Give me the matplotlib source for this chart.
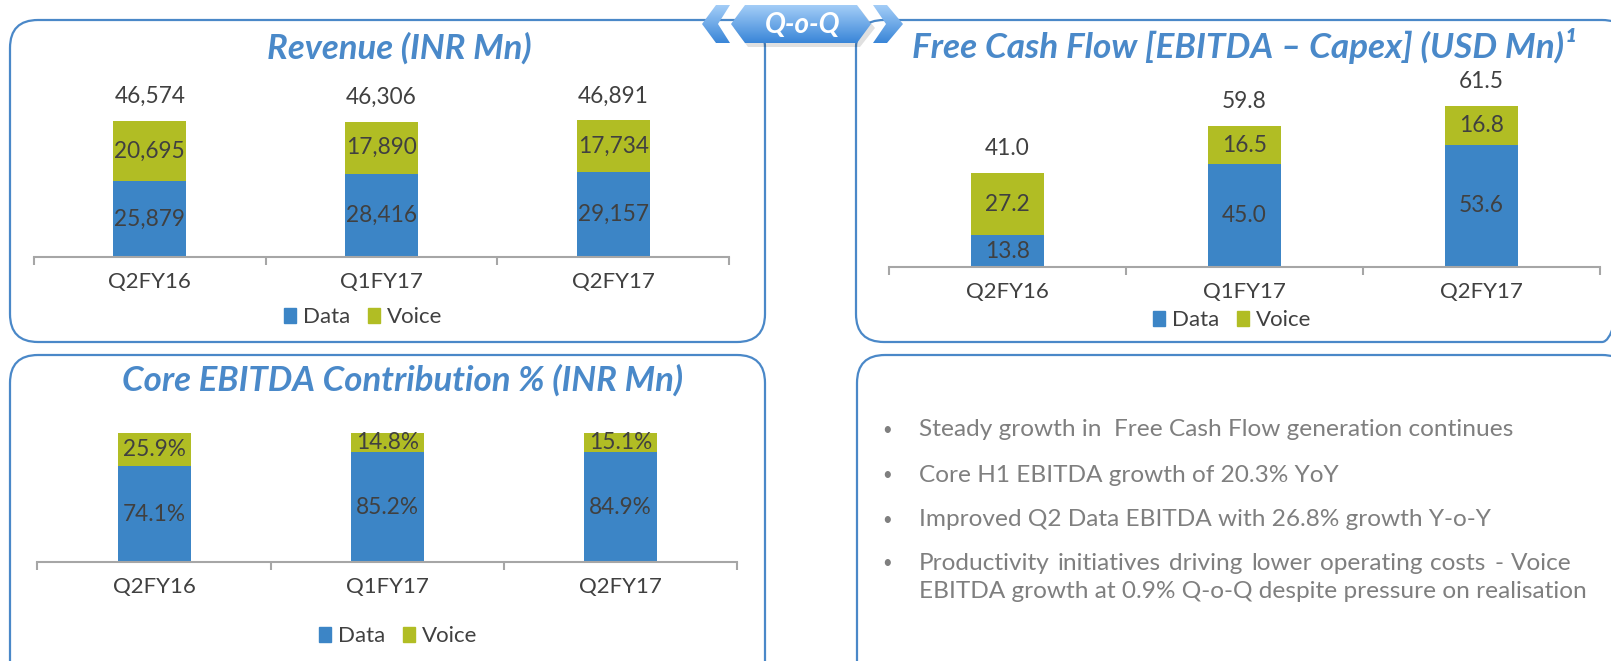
import numpy as np
import matplotlib
matplotlib.use("Agg")
import matplotlib.pyplot as plt
from matplotlib.patches import FancyBboxPatch, Polygon, Patch
from matplotlib.colors import LinearSegmentedColormap

# ---------------- data ----------------
categories = ["Q2FY16", "Q1FY17", "Q2FY17"]

rev_data = [25879, 28416, 29157]
rev_voice = [20695, 17890, 17734]
rev_total_labels = ["46,574", "46,306", "46,891"]
rev_data_labels = ["25,879", "28,416", "29,157"]
rev_voice_labels = ["20,695", "17,890", "17,734"]

fcf_data = [13.8, 45.0, 53.6]
fcf_voice = [27.2, 16.5, 16.8]
fcf_total_labels = ["41.0", "59.8", "61.5"]

ebitda_data = [74.1, 85.2, 84.9]
ebitda_voice = [25.9, 14.8, 15.1]

series_names = ["Data", "Voice"]

bullets = [
    "Steady growth in  Free Cash Flow generation continues",
    "Core H1 EBITDA growth of 20.3% YoY",
    "Improved Q2 Data EBITDA with 26.8% growth Y-o-Y",
    "Productivity initiatives driving lower operating costs - Voice",
    "EBITDA growth at 0.9% Q-o-Q despite pressure on realisation",
]

titles = ["Revenue (INR Mn)",
          "Free Cash Flow [EBITDA \u2013 Capex] (USD Mn)\u00b9",
          "Core EBITDA Contribution % (INR Mn)"]

# ---------------- style ----------------
FONT = ["Lato", "DejaVu Sans"]
plt.rcParams["font.family"] = FONT
C_DATA = "#3C85C6"
C_VOICE = "#B1BD24"
C_TEXT = "#404040"
C_TITLE = "#4A89C9"
C_BORDER = "#4A88C8"
C_AXIS = "#A6A6A6"
C_BULLET = "#7F7F7F"

W, H = 1611, 661
fig = plt.figure(figsize=(W / 100, H / 100), dpi=100)
fig.patch.set_facecolor("white")

# overlay in pixel coordinates
ov = fig.add_axes([0, 0, 1, 1])
ov.set_xlim(0, W)
ov.set_ylim(H, 0)
ov.axis("off")

def panel(x0, y0, x1, y1, r=28):
    p = FancyBboxPatch((x0, y0), x1 - x0, y1 - y0,
                       boxstyle=f"round,pad=0,rounding_size={r}",
                       fc="none", ec=C_BORDER, lw=1.6, zorder=1)
    ov.add_patch(p)

panel(10, 20, 765, 342)
panel(856, 20, 1630, 342)
panel(10, 355, 765, 700)
panel(857, 355, 1630, 700)
ov.plot([765, 856], [20, 20], color=C_BORDER, lw=1.6, zorder=1)

# Q-o-Q badge with gradient
cmap_b = LinearSegmentedColormap.from_list("b", ["#A3CDF7", "#3A86D8"])

def grad_poly(pts):
    poly = Polygon(pts, closed=True, fc="none", ec="none", zorder=5)
    ov.add_patch(poly)
    xs = [p[0] for p in pts]; ys = [p[1] for p in pts]
    g = np.linspace(0, 1, 64).reshape(-1, 1)
    im = ov.imshow(g, extent=(min(xs), max(xs), max(ys), min(ys)),
                   cmap=cmap_b, aspect="auto", zorder=5, origin="upper")
    im.set_clip_path(poly)

shadow = Polygon([(734, 28), (748, 9), (860, 9), (875, 28), (860, 47), (748, 47)],
                 closed=True, fc="#000000", alpha=0.12, ec="none", zorder=4)
ov.add_patch(shadow)
grad_poly([(731, 24), (745, 5), (857, 5), (871, 24), (857, 43), (745, 43)])
grad_poly([(716, 5), (730, 5), (718, 24), (730, 43), (716, 43), (702, 24)])
grad_poly([(873, 5), (887, 5), (903, 24), (887, 43), (873, 43), (886, 24)])
ov.text(803, 25, "Q-o-Q", color="white", fontsize=20, fontweight="bold",
        fontstyle="italic", ha="center", va="center", zorder=6)

# titles
ov.text(399, 48, titles[0], color=C_TITLE, fontsize=25, fontweight="bold",
        fontstyle="italic", ha="center", va="center")
ov.text(1244, 46, titles[1], color=C_TITLE, fontsize=25.3, fontweight="bold",
        fontstyle="italic", ha="center", va="center")
ov.text(403, 380, titles[2], color=C_TITLE, fontsize=25, fontweight="bold",
        fontstyle="italic", ha="center", va="center")

def px_axes(x0, y_top, x1, y_bot):
    a = fig.add_axes([x0 / W, 1 - y_bot / H, (x1 - x0) / W, (y_bot - y_top) / H])
    a.set_facecolor("none")
    return a

def stacked(ax, data, voice, ymax, width, data_labels, voice_labels,
            total_labels=None, total_off=18, fs=16.3):
    x = np.arange(len(categories))
    ax.bar(x, data, width, color=C_DATA, zorder=2)
    ax.bar(x, voice, width, bottom=data, color=C_VOICE, zorder=2)
    for i in range(len(x)):
        ax.text(x[i], data[i] / 2, data_labels[i], ha="center", va="center",
                color=C_TEXT, fontsize=fs)
        ax.text(x[i], data[i] + voice[i] / 2, voice_labels[i], ha="center",
                va="center", color=C_TEXT, fontsize=fs)
        if total_labels is not None:
            ax.annotate(total_labels[i], (x[i], data[i] + voice[i]),
                        xytext=(0, total_off), textcoords="offset points",
                        ha="center", va="center", color=C_TEXT, fontsize=fs)
    ax.set_xlim(-0.5, len(x) - 0.5)
    ax.set_ylim(0, ymax)
    for s in ["top", "left", "right"]:
        ax.spines[s].set_visible(False)
    ax.spines["bottom"].set_color(C_AXIS)
    ax.spines["bottom"].set_linewidth(1.5)
    ax.set_yticks([])
    ax.set_xticks(x)
    ax.set_xticklabels(categories, fontsize=16, color=C_TEXT)
    ax.tick_params(axis="x", which="major", length=0, pad=11)
    ax.set_xticks(np.arange(-0.5, len(x), 1.0), minor=True)
    ax.tick_params(axis="x", which="minor", length=6, width=1.5,
                   color=C_AXIS, direction="out")

def legend_at(cx, cy):
    handles = [Patch(color=C_DATA, label=series_names[0]),
               Patch(color=C_VOICE, label=series_names[1])]
    fig.legend(handles=handles, loc="center", bbox_to_anchor=(cx / W, 1 - cy / H),
               ncol=2, frameon=False, fontsize=16, handlelength=0.55,
               handleheight=0.65, handletextpad=0.3, columnspacing=0.8,
               labelcolor=C_TEXT, borderpad=0)

ax1 = px_axes(34, 60, 729, 257)
stacked(ax1, rev_data, rev_voice, 67400, 0.315, rev_data_labels,
        rev_voice_labels, rev_total_labels, total_off=17.3)
legend_at(363, 317)

ax2 = px_axes(889, 60, 1600, 267)
stacked(ax2, fcf_data, fcf_voice, 90.6, 0.312,
        [f"{v:.1f}" for v in fcf_data], [f"{v:.1f}" for v in fcf_voice],
        fcf_total_labels, total_off=18)
legend_at(1232, 320)

ax3 = px_axes(37.5, 400, 737, 562)
stacked(ax3, ebitda_data, ebitda_voice, 125.6, 0.313,
        [f"{v:.1f}%" for v in ebitda_data], [f"{v:.1f}%" for v in ebitda_voice])
legend_at(398, 636)

# bullets
bullet_y = [430, 475, 520, 563, 592]
bullet_marks = [True, True, True, True, False]
renderer = fig.canvas.get_renderer()
FS_B = 17.6
for txt, y, mark in zip(bullets, bullet_y, bullet_marks):
    if mark:
        ov.text(887, y, "\u2022", color=C_BULLET, fontsize=12, ha="center", va="center")
    if txt.startswith("Productivity"):
        words = txt.split(" ")
        objs = [ov.text(0, y, w, color=C_BULLET, fontsize=FS_B, ha="left",
                        va="center") for w in words]
        widths = [o.get_window_extent(renderer).width for o in objs]
        left, right = 919, 1572
        gap = (right - left - sum(widths)) / (len(words) - 1)
        xpos = left
        for o, wd in zip(objs, widths):
            o.set_x(xpos)
            xpos += wd + gap
    else:
        ov.text(919, y, txt, color=C_BULLET, fontsize=FS_B, ha="left", va="center")

fig.savefig("out.png", dpi=100)
